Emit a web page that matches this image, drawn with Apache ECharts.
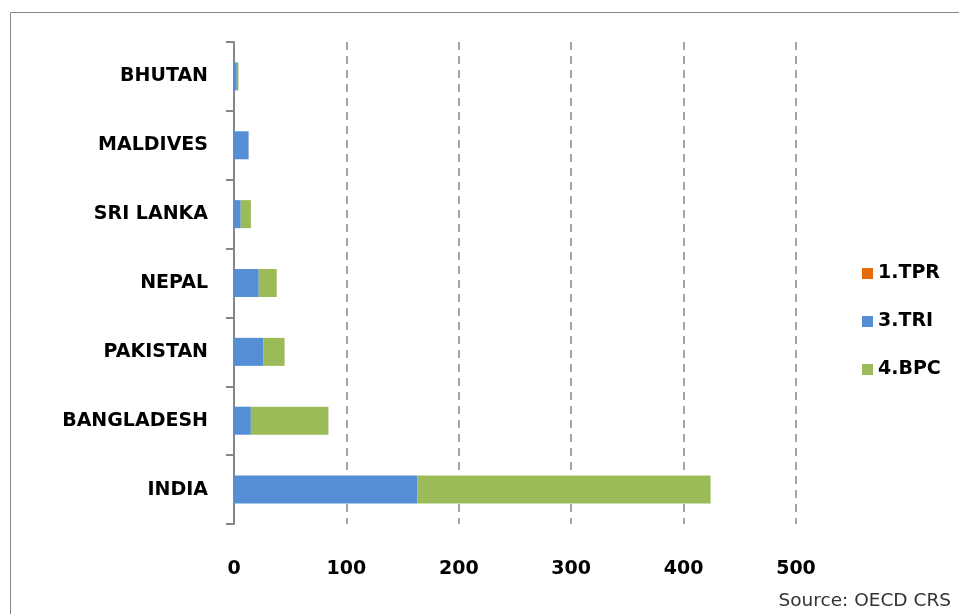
<!DOCTYPE html>
<html>
<head>
<meta charset="utf-8">
<script src="https://cdn.jsdelivr.net/npm/echarts@6/dist/echarts.min.js"></script>
<style>
  html, body { margin: 0; padding: 0; background: #fff; }
  #chart { width: 959px; height: 614px; }
</style>
</head>
<body>
<div id="chart"></div>
<script>
  // countries, bottom to top
  var countries = ['INDIA', 'BANGLADESH', 'PAKISTAN', 'NEPAL', 'SRI LANKA', 'MALDIVES', 'BHUTAN'];
  var tpr = [0, 0, 0, 0, 0, 0, 0];
  var tri = [163, 15, 26, 22, 6, 13, 2.5];
  var bpc = [261, 69, 19, 16, 9, 0, 1.5];
  var xTicks = [0, 100, 200, 300, 400, 500];

  var myChart = echarts.init(document.getElementById('chart'));
  var labelFont = {fontFamily: 'DejaVu Sans', fontWeight: 'bold', fontSize: 19, color: '#000'};

  myChart.setOption({
    animation: false,
    graphic: [
      {
        type: 'rect',
        shape: {x: 10.5, y: 12.5, width: 960, height: 620},
        style: {fill: 'none', stroke: '#868686', lineWidth: 1}
      },
      {
        type: 'text',
        right: 8, bottom: 3,
        style: {text: 'Source: OECD CRS', fontFamily: 'DejaVu Sans', fontSize: 18.5, fill: '#333'}
      }
    ],
    legend: {
      orient: 'vertical',
      left: 857,
      top: 259,
      itemWidth: 11,
      itemHeight: 11,
      itemGap: 29,
      icon: 'rect',
      textStyle: {fontFamily: 'DejaVu Sans', fontWeight: 'bold', fontSize: 19, color: '#000'},
      data: ['1.TPR', '3.TRI', '4.BPC']
    },
    grid: {left: 234, right: 163, top: 42, bottom: 90},
    xAxis: {
      type: 'value',
      min: 0,
      max: 500,
      interval: 100,
      axisLine: {show: false},
      axisTick: {show: false},
      axisLabel: Object.assign({margin: 36, formatter: function (v) {
        return xTicks.indexOf(v) >= 0 ? v : '';
      }}, labelFont),
      splitLine: {show: true, lineStyle: {color: '#868686', type: [8, 6], width: 1.5}}
    },
    yAxis: {
      type: 'category',
      data: countries,
      axisLine: {show: true, lineStyle: {color: '#868686', width: 2}},
      axisTick: {show: true, length: 8, lineStyle: {color: '#868686', width: 2}},
      axisLabel: Object.assign({margin: 26}, labelFont)
    },
    series: [
      {
        name: '1.TPR', type: 'bar', stack: 'total', data: tpr,
        barWidth: 28, itemStyle: {color: '#E36C09'}
      },
      {
        name: '3.TRI', type: 'bar', stack: 'total', data: tri,
        barWidth: 28, itemStyle: {color: '#558ED5'}
      },
      {
        name: '4.BPC', type: 'bar', stack: 'total', data: bpc,
        barWidth: 28, itemStyle: {color: '#9BBB59'}
      }
    ]
  });
</script>
</body>
</html>
